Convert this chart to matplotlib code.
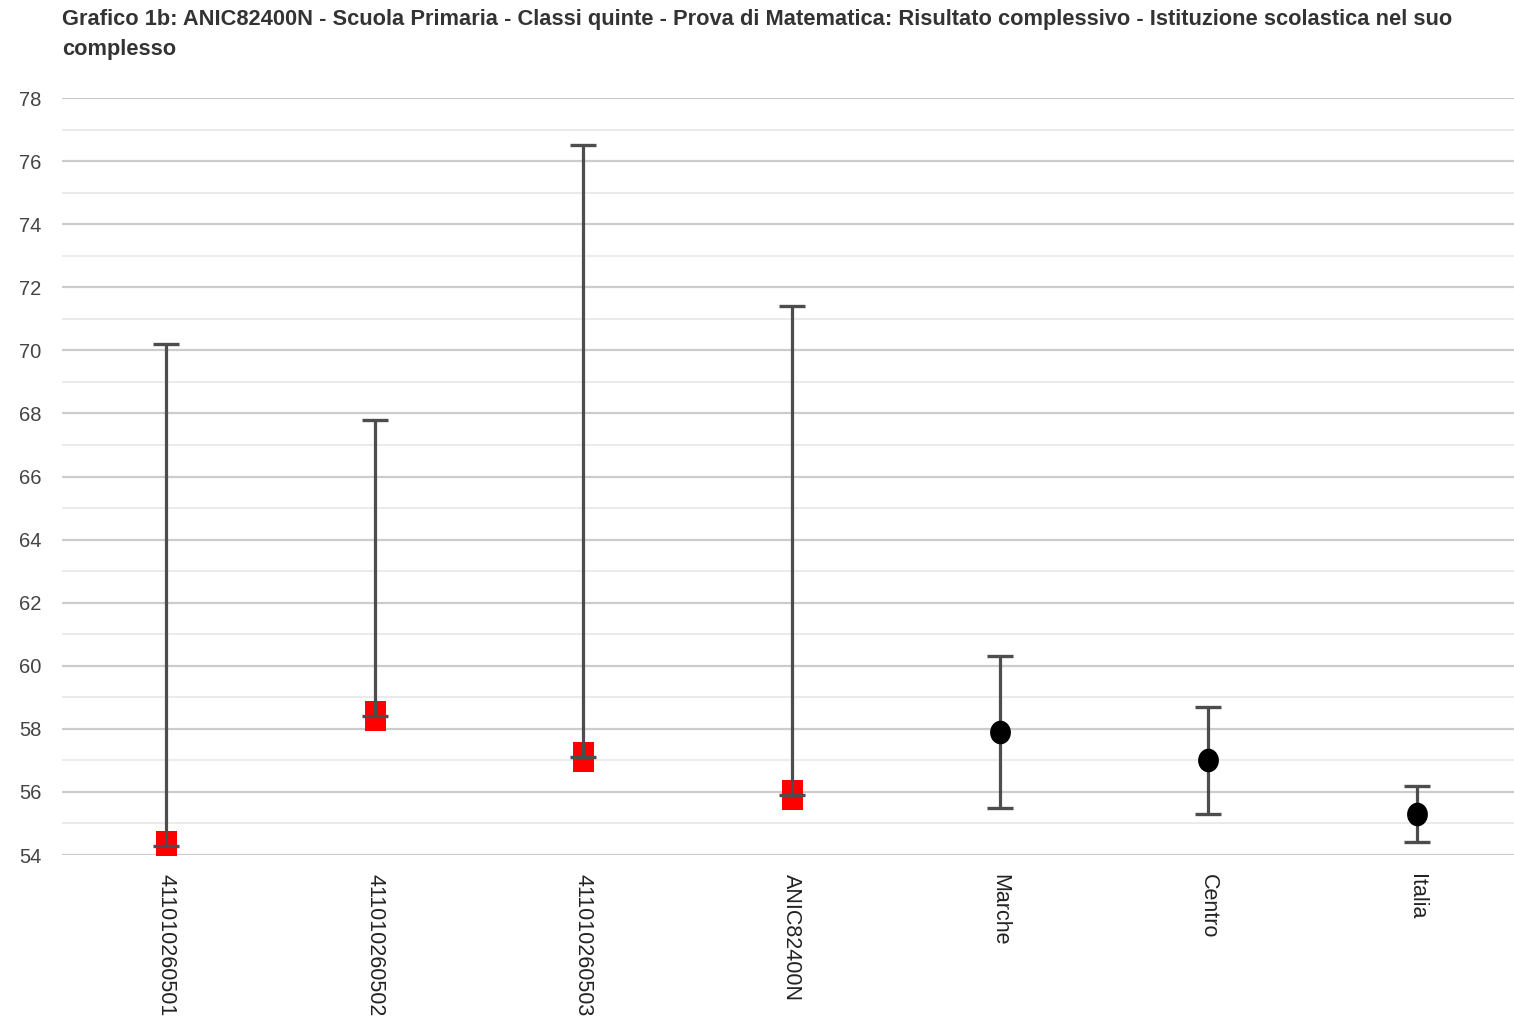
import matplotlib
matplotlib.use('Agg')
import matplotlib.pyplot as plt
from matplotlib.path import Path
from matplotlib.ticker import MultipleLocator
import numpy as np

# ---- data ----
categories = ['411010260501', '411010260502', '411010260503', 'ANIC82400N',
              'Marche', 'Centro', 'Italia']
means = [54.3, 58.4, 57.1, 55.9, 57.9, 57.0, 55.3]
lower = [54.3, 58.4, 57.1, 55.9, 55.5, 55.3, 54.4]
upper = [70.2, 67.8, 76.5, 71.4, 60.3, 58.7, 56.2]
n_classes = 4  # first four are the school's own results (red), rest are references
title = ("Grafico 1b: ANIC82400N - Scuola Primaria - Classi quinte - Prova di Matematica: "
         "Risultato complessivo - Istituzione scolastica nel suo\ncomplesso")

W, H = 1514, 1018
fig = plt.figure(figsize=(W / 100, H / 100), dpi=100)
ax = fig.add_axes([62 / W, 1 - 855 / H, (1521 - 62) / W, (855 - 98) / H])

x = np.arange(len(categories))
m = np.array(means)
lo = np.array(lower)
up = np.array(upper)

rect = Path([(-0.36, -0.5), (0.36, -0.5), (0.36, 0.5), (-0.36, 0.5), (-0.36, -0.5)], closed=True)
t = np.linspace(0, 2 * np.pi, 80)
ell = Path(np.column_stack([0.44 * np.cos(t), 0.5 * np.sin(t)]), closed=True)

# red class markers (under the error bars)
ax.plot(x[:n_classes], m[:n_classes], linestyle='none', marker=rect, markersize=21,
        markerfacecolor='#ff0000', markeredgecolor='#ff0000', markeredgewidth=0, zorder=2)

# error bars
ax.errorbar(x, m, yerr=[m - lo, up - m], fmt='none', ecolor='#4d4d4d', elinewidth=2.3,
            capsize=9.5, capthick=2.4, zorder=3)

# black reference markers
ax.plot(x[n_classes:], m[n_classes:], linestyle='none', marker=ell, markersize=17,
        markerfacecolor='black', markeredgecolor='black', markeredgewidth=0, zorder=4)

ax.set_xlim(-0.5, len(categories) - 0.5)
ax.set_ylim(54, 78)
ax.yaxis.set_major_locator(MultipleLocator(2))
ax.yaxis.set_minor_locator(MultipleLocator(1))
ax.grid(which='major', axis='y', color='#cccccc', linewidth=1.6, zorder=0)
ax.grid(which='minor', axis='y', color='#ebebeb', linewidth=1.4, zorder=0)
ax.set_axisbelow(True)
for s in ax.spines.values():
    s.set_visible(False)

ax.set_xticks(x)
ax.set_xticklabels(categories, rotation=270, ha='center', va='top',
                   fontsize=15.5, color='#222222', family=['Liberation Sans', 'DejaVu Sans'])
ax.tick_params(axis='x', length=0, pad=14)
ax.tick_params(axis='y', which='both', length=0, pad=15, labelsize=14.5, labelcolor='#444444')
for lab in ax.get_yticklabels():
    lab.set_family(['Liberation Sans', 'DejaVu Sans'])

fig.text(62 / W, 1 - 9 / H, title, ha='left', va='top', fontsize=15.75, fontweight='bold',
         color='#333333', linespacing=1.55, family=['Liberation Sans', 'DejaVu Sans'])

fig.savefig('out.png', dpi=100)
